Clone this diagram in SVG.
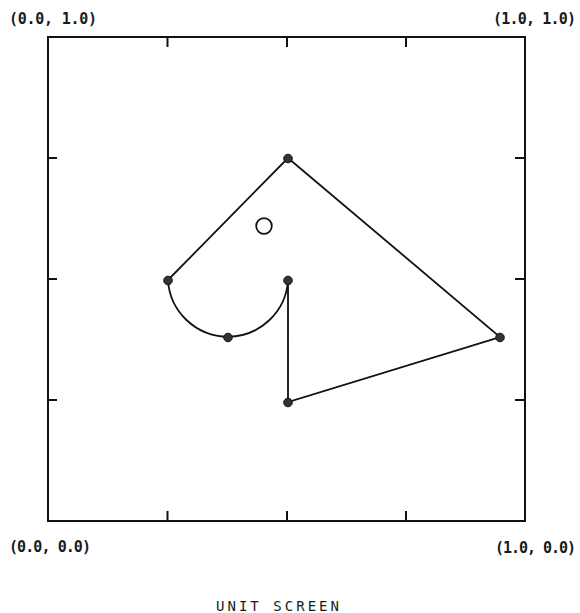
<svg xmlns="http://www.w3.org/2000/svg" width="580" height="613" viewBox="0 0 580 613">
<style>
.lbl{font-family:"DejaVu Sans Mono","Liberation Mono",monospace;font-size:15px;fill:#1a1a1a;font-weight:bold}
.ttl{font-family:"DejaVu Sans Mono","Liberation Mono",monospace;font-size:14px;fill:#1a1a1a;letter-spacing:3px}
.frame{fill:none;stroke:#111;stroke-width:2}
.edge{fill:none;stroke:#111;stroke-width:1.8}
.pt{fill:#333;stroke:#111;stroke-width:1}
</style>
<rect width="580" height="613" fill="#fff"/>
<g id="screen">
<rect class="frame" x="48" y="37" width="477" height="484"/>
<path class="frame" d="M167.5 37v10M287 37v10M406 37v10M167.5 521v-10M287 521v-10M406 521v-10M48 158h9M48 279h9M48 400h9M525 158h-10M525 279h-10M525 400h-10"/>
</g>
<g id="connectors">
<path class="edge" d="M168 280L288 158L500 337L288 402L288 280"/>
<path class="edge" d="M168 280A60.1 60.1 0 0 0 288 280"/>
</g>
<g id="p1"><circle class="pt" cx="288" cy="158.5" r="4.3"/></g>
<g id="p2"><circle class="pt" cx="168" cy="280.5" r="4.3"/></g>
<g id="p3"><circle class="pt" cx="288" cy="280.5" r="4.3"/></g>
<g id="p4"><circle class="pt" cx="228" cy="337.5" r="4.3"/></g>
<g id="p5"><circle class="pt" cx="288" cy="402.5" r="4.3"/></g>
<g id="p6"><circle class="pt" cx="500" cy="337.5" r="4.3"/></g>
<g id="origin"><circle cx="264" cy="226" r="7.8" fill="none" stroke="#111" stroke-width="1.8"/></g>
<g id="labels">
<text class="lbl" x="9" y="24" textLength="88">(0.0, 1.0)</text>
<text class="lbl" x="493" y="24" textLength="83">(1.0, 1.0)</text>
<text class="lbl" x="9" y="552" textLength="82">(0.0, 0.0)</text>
<text class="lbl" x="495" y="553" textLength="81">(1.0, 0.0)</text>
<text class="ttl" x="216" y="611" textLength="126">UNIT SCREEN</text>
</g>
</svg>
